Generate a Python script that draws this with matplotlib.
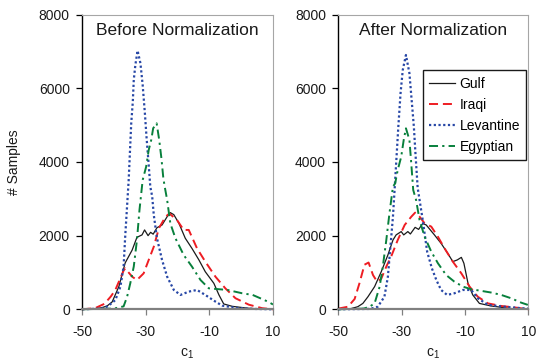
import numpy as np
import matplotlib
matplotlib.use('Agg')
import matplotlib.pyplot as plt

plt.rcParams['font.family'] = ['Liberation Sans', 'DejaVu Sans']
plt.rcParams['lines.scale_dashes'] = False
plt.rcParams['axes.unicode_minus'] = False

# ---- data (c1 value, # samples) ----
# before normalization
gulf_x_b = [-50, -46, -44, -42.2, -40.6, -38.5, -36.5, -34.3, -32.8, -31.2, -30.4, -29.3, -28.5, -27.7, -26.5,
            -24.9, -23.3, -22.3, -21.2, -19.6, -17.6, -15.5, -13.3, -11.3, -8.6, -7.0, -5.5, -2.8, 2, 6, 10]
gulf_y_b = [0, 20, 40, 90, 200, 615, 1260, 1610, 1955, 2020, 2155, 2000, 2090, 2040, 2215,
            2290, 2515, 2625, 2570, 2335, 1930, 1655, 1340, 1020, 705, 390, 145, 80, 30, 10, 0]

iraqi_x_b = [-50, -46, -43, -41, -39.6, -37, -36.5, -34.3, -32.8, -30.7, -29.1, -27.5, -25.9, -23.8,
             -22.6, -20.2, -18.1, -16.5, -13.9, -11.3, -8.1, -5.0, -1.8, 2.4, 6.6, 10]
iraqi_y_b = [0, 30, 150, 350, 525, 1050, 1110, 885, 795, 975, 1340, 1700, 2200, 2515,
             2600, 2425, 2155, 2155, 1655, 1295, 885, 570, 300, 125, 30, 0]

lev_x_b = [-50, -44, -42, -39.6, -38.0, -37.0, -36.5, -35.4, -34.6, -34.1, -33.8, -33.3, -32.6, -31.7,
           -31.0, -30.3, -29.8, -29.1, -28.6, -28.0, -27.5, -26.5, -24.9, -23.3, -21.2, -19.1, -16.5,
           -13.9, -11.3, -8.6, -6.0, -1.8, 4, 10]
lev_y_b = [0, 20, 80, 250, 615, 1160, 1970, 3510, 5050, 5640, 6230, 6635, 7025, 6680,
           6090, 5320, 4690, 3920, 3330, 3060, 2560, 1930, 1340, 885, 525, 390, 480,
           525, 390, 235, 100, 40, 10, 0]

egy_x_b = [-50, -40, -37, -35.9, -34.9, -33.8, -32.8, -32.0, -31.0, -29.9, -29.1, -28.3, -27.7, -26.6,
           -25.8, -25.1, -24.5, -24.0, -23.3, -22.3, -20.7, -18.1, -15.5, -12.8, -10.2, -7.0, -4.3,
           0.3, 3.6, 6.0, 8.6, 10]
egy_y_b = [0, 20, 80, 340, 705, 1160, 1880, 2700, 3510, 3875, 4325, 4600, 4915, 5050,
           4600, 4100, 3560, 3300, 2970, 2335, 1930, 1475, 1160, 795, 570, 545, 525,
           435, 390, 300, 200, 130]

# after normalization
gulf_x_a = [-50, -46, -43.9, -42.3, -40.7, -38.6, -36.5, -34.4, -32.8, -31.8, -30.2, -29.4, -28.1, -27.3,
            -25.8, -24.7, -23.4, -22.3, -19.7, -17.6, -15.5, -13.9, -12.5, -11.2, -10.4, -9.1, -7.6,
            -5.5, -1.8, 4.5, 10]
gulf_y_a = [0, 20, 70, 160, 340, 615, 1020, 1475, 1880, 2020, 2110, 2020, 2110, 2045,
            2225, 2170, 2330, 2290, 2020, 1790, 1520, 1295, 1340, 1410, 1250, 705, 390,
            160, 90, 20, 0]

iraqi_x_a = [-50, -47, -44.9, -43.4, -41.8, -40.5, -39.1, -37.8, -36.5, -34.9, -33.4, -31.3, -29.1,
             -27.0, -25.8, -24.4, -22.8, -20.7, -18.6, -16.5, -13.9, -11.2, -8.6, -6.0, -2.8, 1.4, 6.6, 10]
iraqi_y_a = [20, 70, 280, 700, 1210, 1270, 930, 750, 830, 1160, 1425, 1880, 2290,
             2515, 2625, 2515, 2335, 2245, 1970, 1655, 1295, 975, 615, 340, 160, 90, 40, 0]

lev_x_a = [-50, -40, -37.6, -35.5, -34.4, -33.6, -32.8, -32.1, -31.6, -31.1, -30.4, -29.7, -28.7, -27.6,
           -26.9, -26.2, -25.7, -25.0, -23.4, -22.0, -20.5, -19.1, -17.6, -15.7, -13.4, -10.7, -8.1,
           -6.0, -2.8, 2.4, 7.7, 10]
lev_y_a = [0, 10, 70, 340, 885, 1700, 2515, 3510, 4240, 4960, 5870, 6500, 6905, 6410,
           5685, 4960, 4240, 3300, 2425, 1565, 1110, 795, 525, 390, 435, 525, 525,
           300, 120, 70, 30, 20]

egy_x_a = [-50, -42, -40.2, -38.6, -37.0, -36.0, -34.9, -33.9, -32.8, -32.1, -31.3, -30.2, -29.4, -28.7,
           -27.6, -27.1, -26.4, -25.5, -24.4, -22.8, -20.7, -18.6, -16.0, -13.4, -10.7, -8.1, -4.9,
           -1.8, 1.4, 4.5, 7.7, 9.8]
egy_y_a = [0, 20, 70, 160, 615, 1160, 1880, 2610, 3330, 3420, 3780, 4140, 4600, 4915,
           4600, 4055, 3240, 2970, 2425, 1970, 1565, 1250, 930, 750, 615, 545, 500,
           455, 390, 300, 180, 120]

names = ['Gulf', 'Iraqi', 'Levantine', 'Egyptian']
colors = ['#1a1a1a', '#ee1d23', '#2747a6', '#08803c']
widths = [0.9, 1.4, 1.6, 1.4]
dashes = [None, (6.5, 3.5), (1.6, 1.8), (6.5, 3.0, 1.6, 3.0)]

xticks = [-50, -30, -10, 10]
yticks = [0, 2000, 4000, 6000, 8000]

f = plt.figure(figsize=(5.36, 3.62), dpi=100)
ax0 = f.add_axes([0.1535, 0.1456, 0.3558, 0.8138])
ax1 = f.add_axes([0.6315, 0.1456, 0.3545, 0.8138])

before = [(gulf_x_b, gulf_y_b), (iraqi_x_b, iraqi_y_b), (lev_x_b, lev_y_b), (egy_x_b, egy_y_b)]
after = [(gulf_x_a, gulf_y_a), (iraqi_x_a, iraqi_y_a), (lev_x_a, lev_y_a), (egy_x_a, egy_y_a)]

for ax, series, title in [(ax0, before, 'Before Normalization'), (ax1, after, 'After Normalization')]:
    for (x, y), name, c, lw, d in zip(series, names, colors, widths, dashes):
        ln, = ax.plot(x, y, color=c, lw=lw, label=name, clip_on=False)
        if d is not None:
            ln.set_dashes(d)
    ax.set_xlim(-50, 10)
    ax.set_ylim(0, 8000)
    ax.set_xticks(xticks)
    ax.set_yticks(yticks)
    ax.tick_params(axis='both', direction='out', labelsize=10, length=4, width=0.9, labelcolor='#1a1a1a')
    ax.tick_params(axis='x', pad=7, color='#808080')
    ax.tick_params(axis='y', pad=5, color='black')
    ax.spines['left'].set_color('black')
    ax.spines['left'].set_linewidth(1.0)
    ax.spines['bottom'].set_color('#808080')
    ax.spines['bottom'].set_linewidth(1.6)
    ax.spines['top'].set_color('#a6a6a6')
    ax.spines['right'].set_color('#a6a6a6')
    ax.text(0.5, 0.945, title, transform=ax.transAxes, ha='center', va='center', fontsize=12.5, color='#1a1a1a')
    ax.set_xlabel('$\\mathregular{c_1}$', fontsize=10, color='#1a1a1a')

ax0.xaxis.set_label_coords(0.549, -0.125)
ax1.xaxis.set_label_coords(0.5, -0.125)
ax0.set_ylabel('# Samples', fontsize=10, color='#1a1a1a')
ax0.yaxis.set_label_coords(-0.32, 0.5)

leg = ax1.legend(loc='upper right', bbox_to_anchor=(0.989, 0.8106), borderaxespad=0, fontsize=10,
                 handlelength=1.9, handletextpad=0.3, labelspacing=0.5, borderpad=0.45,
                 fancybox=False, framealpha=1, edgecolor='#1a1a1a')
leg.get_frame().set_linewidth(1.0)

plt.savefig('out.png', dpi=100)
